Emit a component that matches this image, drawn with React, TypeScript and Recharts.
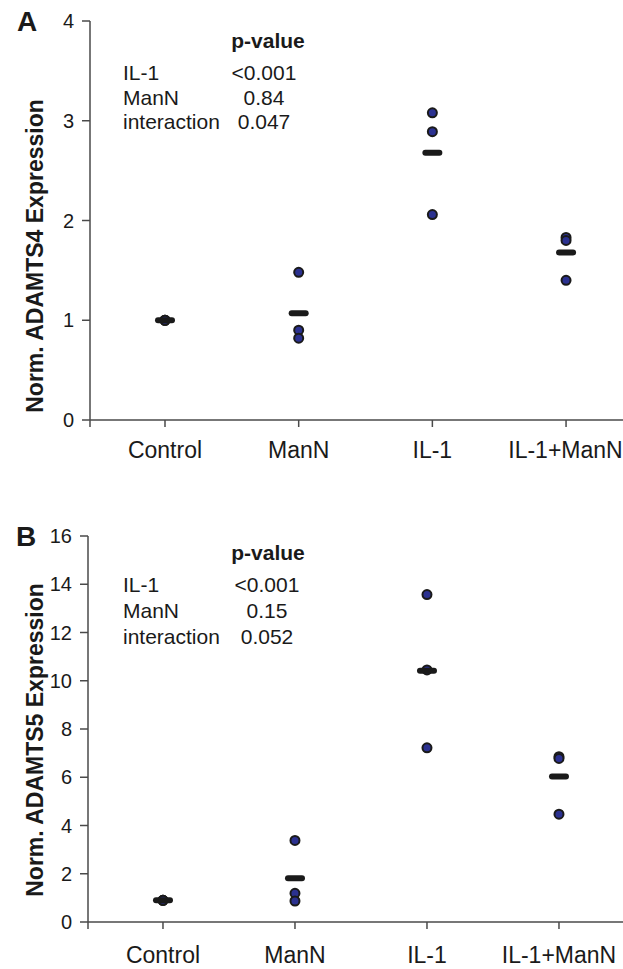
import React from 'react'
import { ScatterChart, Scatter, XAxis, YAxis } from 'recharts'

const categories = ['Control', 'ManN', 'IL-1', 'IL-1+ManN']

// ADAMTS4 (panel A)
const a4Control = [1.0, 1.0, 1.0]
const a4ManN = [1.48, 0.9, 0.82]
const a4IL1 = [3.08, 2.89, 2.06]
const a4IL1ManN = [1.83, 1.8, 1.4]
const a4Means = [1.0, 1.07, 2.68, 1.68]
const a4Ticks = [0, 1, 2, 3, 4]
const a4PValues = [
  ['IL-1', '<0.001'],
  ['ManN', '0.84'],
  ['interaction', '0.047'],
]

// ADAMTS5 (panel B)
const a5Control = [0.9, 0.9, 0.9]
const a5ManN = [3.38, 1.19, 0.87]
const a5IL1 = [13.57, 10.45, 7.22]
const a5IL1ManN = [6.85, 6.78, 4.47]
const a5Means = [0.9, 1.81, 10.41, 6.03]
const a5Ticks = [0, 2, 4, 6, 8, 10, 12, 14, 16]
const a5PValues = [
  ['IL-1', '<0.001'],
  ['ManN', '0.15'],
  ['interaction', '0.052'],
]

const FONT = '"Liberation Sans", Arial, Helvetica, sans-serif'
const AXIS = '#4a4a4a'
const INK = '#1a1a1a'

const toPoints = (groups: number[][]) =>
  groups.flatMap((vals, i) => vals.map(v => ({ x: i + 1, y: v })))

const toMeans = (means: number[]) => means.map((v, i) => ({ x: i + 1, y: v }))

const Dot = (props: any) => (
  <circle cx={props.cx} cy={props.cy} r={4.5} fill="#2b3190" stroke={INK} strokeWidth={2} />
)

const MeanBar = (props: any) => (
  <rect x={props.cx - 10} y={props.cy - 3} width={20} height={6} rx={3} fill={INK} />
)

const makeXTick = (offset: number) => (props: any) => {
  const { x, y, payload } = props
  const idx = Math.round(payload.value) - 1
  const label = Math.abs(payload.value - Math.round(payload.value)) < 1e-6 ? categories[idx] : ''
  // keep the last label inside the right edge
  const tx = idx === 3 ? Math.min(x, 623 - 57.5) : x
  return (
    <text x={tx} y={y + offset} textAnchor="middle" fontSize={23} fill={INK} fontFamily={FONT}>
      {label}
    </text>
  )
}

function Panel({
  top, height, marginTop, xAxisHeight, yAxisWidth, xDomain, yTicks, points, means, labelOffset,
}: {
  top: number; height: number; marginTop: number; xAxisHeight: number; yAxisWidth: number
  xDomain: [number, number]; yTicks: number[]; points: { x: number; y: number }[]
  means: { x: number; y: number }[]; labelOffset: number
}) {
  const XTick = makeXTick(labelOffset)
  return (
    <div style={{ position: 'absolute', left: 0, top }}>
      <ScatterChart width={623} height={height} margin={{ top: marginTop, right: 0, bottom: 0, left: 0 }}>
        <XAxis
          type="number"
          dataKey="x"
          domain={xDomain}
          allowDataOverflow
          ticks={[xDomain[0], 1, 2, 3, 4]}
          tick={<XTick />}
          tickSize={7}
          height={xAxisHeight}
          axisLine={{ stroke: AXIS, strokeWidth: 1.5 }}
          tickLine={{ stroke: AXIS, strokeWidth: 1.5 }}
        />
        <YAxis
          type="number"
          dataKey="y"
          domain={[yTicks[0], yTicks[yTicks.length - 1]]}
          ticks={yTicks}
          interval={0}
          width={yAxisWidth}
          tickSize={8}
          tickMargin={8}
          tick={{ fontSize: 20, fill: INK, fontFamily: FONT }}
          axisLine={{ stroke: AXIS, strokeWidth: 1.5 }}
          tickLine={{ stroke: AXIS, strokeWidth: 1.5 }}
        />
        <Scatter data={points} shape={<Dot />} isAnimationActive={false} />
        <Scatter data={means} shape={<MeanBar />} isAnimationActive={false} />
      </ScatterChart>
    </div>
  )
}

const Txt = ({ x, y, size, bold, anchor, children }: any) => (
  <div
    style={{
      position: 'absolute',
      left: x,
      top: y,
      fontSize: size,
      lineHeight: 1,
      fontWeight: bold ? 'bold' : 'normal',
      fontFamily: FONT,
      color: INK,
      whiteSpace: 'nowrap',
      transform: anchor === 'middle' ? 'translate(-50%, -50%)' : 'translate(0, -50%)',
    }}
  >
    {children}
  </div>
)

const YTitle = ({ cx, cy, children }: any) => (
  <div
    style={{
      position: 'absolute',
      left: cx,
      top: cy,
      fontSize: 23,
      lineHeight: 1,
      fontWeight: 'bold',
      fontFamily: FONT,
      color: INK,
      whiteSpace: 'nowrap',
      transform: 'translate(-50%, -50%) rotate(-90deg)',
    }}
  >
    {children}
  </div>
)

function PTable({ top, rows, gap, pCenterX, valCenterX }: any) {
  return (
    <>
      <Txt x={pCenterX} y={top} size={21} bold anchor="middle">p-value</Txt>
      {rows.map((r: string[], i: number) => (
        <React.Fragment key={r[0]}>
          <Txt x={123} y={top + 32 + i * gap} size={21}>{r[0]}</Txt>
          <Txt x={valCenterX} y={top + 32 + i * gap} size={21} anchor="middle">{r[1]}</Txt>
        </React.Fragment>
      ))}
    </>
  )
}

export default function App() {
  return (
    <div style={{ position: 'absolute', left: 0, top: 0, width: 623, height: 969, background: '#fff', overflow: 'hidden' }}>
      <Panel
        top={0}
        height={480}
        marginTop={21}
        xAxisHeight={60}
        yAxisWidth={90}
        xDomain={[0.439, 4.426]}
        yTicks={a4Ticks}
        points={toPoints([a4Control, a4ManN, a4IL1, a4IL1ManN])}
        means={toMeans(a4Means)}
        labelOffset={29}
      />
      <Panel
        top={500}
        height={469}
        marginTop={36}
        xAxisHeight={47}
        yAxisWidth={88}
        xDomain={[0.432, 4.485]}
        yTicks={a5Ticks}
        points={toPoints([a5Control, a5ManN, a5IL1, a5IL1ManN])}
        means={toMeans(a5Means)}
        labelOffset={32}
      />

      <Txt x={17} y={22} size={28} bold>A</Txt>
      <Txt x={16} y={537} size={28} bold>B</Txt>

      <YTitle cx={35} cy={256}>Norm. ADAMTS4 Expression</YTitle>
      <YTitle cx={35} cy={740}>Norm. ADAMTS5 Expression</YTitle>

      <PTable top={40} rows={a4PValues} gap={24.5} pCenterX={268} valCenterX={264} />
      <PTable top={552} rows={a5PValues} gap={26} pCenterX={268} valCenterX={267} />
    </div>
  )
}
